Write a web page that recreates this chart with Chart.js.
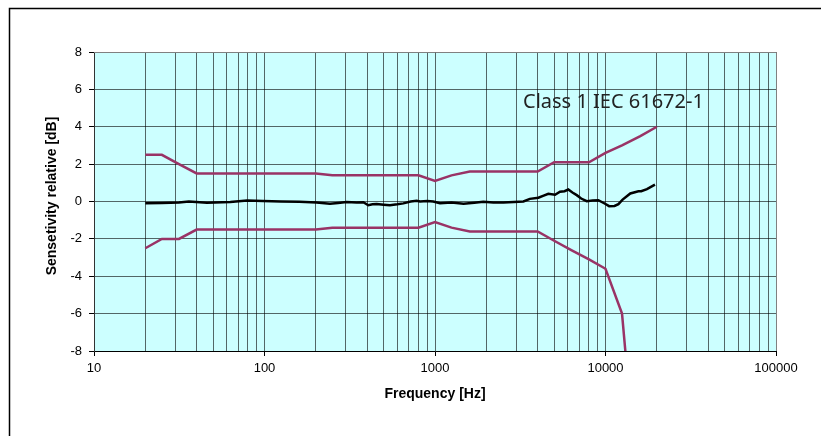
<!DOCTYPE html>
<html>
<head>
<meta charset="utf-8">
<script src="https://cdn.jsdelivr.net/npm/chart.js@4/dist/chart.umd.min.js"></script>
<style>
  html, body { margin: 0; padding: 0; background: #fff; }
  #wrap { width: 821px; height: 436px; position: relative; }
</style>
</head>
<body>
<div id="wrap"><canvas id="sensChart" width="821" height="436"></canvas></div>
<script>
// Class 1 IEC 61672-1 tolerance limits (1/3 octave centre frequencies)
const tolFreq = [20, 25, 31.5, 40, 50, 63, 80, 100, 125, 160, 200, 250, 315, 400, 500, 630, 800,
                 1000, 1250, 1600, 2000, 2500, 3150, 4000, 5000, 6300, 8000, 10000, 12500, 16000, 20000];
const tolUpper = [2.5, 2.5, 2.0, 1.5, 1.5, 1.5, 1.5, 1.5, 1.5, 1.5, 1.5, 1.4, 1.4, 1.4, 1.4, 1.4, 1.4,
                  1.1, 1.4, 1.6, 1.6, 1.6, 1.6, 1.6, 2.1, 2.1, 2.1, 2.6, 3.0, 3.5, 4.0];
const tolLower = [-2.5, -2.0, -2.0, -1.5, -1.5, -1.5, -1.5, -1.5, -1.5, -1.5, -1.5, -1.4, -1.4, -1.4, -1.4, -1.4, -1.4,
                  -1.1, -1.4, -1.6, -1.6, -1.6, -1.6, -1.6, -2.1, -2.6, -3.1, -3.6, -6.0, -17, null];

// measured relative sensitivity
const measFreq = [20, 25, 31.5, 36, 46, 63, 79, 98, 125, 160, 202, 242, 270, 303, 347, 380, 406, 430, 455, 500,
                  544, 600, 652, 720, 781, 817, 900, 977, 1070, 1250, 1470, 1700, 1920, 2200, 2520, 2900, 3300,
                  3600, 4040, 4300, 4620, 5060, 5410, 5750, 6050, 6400, 6780, 7200, 7760, 8400, 9080, 9940,
                  10500, 11300, 11900, 12600, 13980, 15600, 16200, 17500, 19500];
const measDb = [-0.1, -0.08, -0.05, 0.0, -0.07, -0.03, 0.05, 0.03, 0.0, -0.02, -0.05, -0.12, -0.08, -0.03, -0.05,
                -0.04, -0.2, -0.15, -0.13, -0.17, -0.2, -0.15, -0.1, 0.0, 0.04, 0.0, 0.02, 0.0, -0.09, -0.06,
                -0.12, -0.07, -0.02, -0.05, -0.06, -0.03, 0.0, 0.14, 0.2, 0.3, 0.41, 0.36, 0.52, 0.55, 0.64,
                0.48, 0.34, 0.16, 0.02, 0.05, 0.07, -0.12, -0.25, -0.24, -0.14, 0.1, 0.43, 0.55, 0.55, 0.66, 0.9];

const decades = [10, 100, 1000, 10000, 100000];
const yTicks = [-8, -6, -4, -2, 0, 2, 4, 6, 8];

const toPoints = (xs, ys) => xs.map((x, i) => ({ x, y: ys[i] }));

// grid at every 1..9 multiple of each decade
const gridFreqs = [];
decades.forEach((d, i) => {
    const last = i === decades.length - 1 ? 1 : 9;
    for (let m = 1; m <= last; m++) gridFreqs.push(d * m);
});

const tickFont = { family: "'Liberation Sans', Arial, sans-serif", size: 13 };
const gridColor = 'rgba(0,0,0,0.6)';

const framePlugin = {
    id: 'frame',
    beforeDraw(chart) {
        const { ctx, chartArea: a } = chart;
        ctx.save();
        ctx.fillStyle = '#fff';
        ctx.fillRect(0, 0, chart.width, chart.height);
        ctx.strokeStyle = '#000';
        ctx.lineWidth = 1.5;
        ctx.beginPath();
        ctx.moveTo(9.5, chart.height);
        ctx.lineTo(9.5, 8.5);
        ctx.lineTo(chart.width, 8.5);
        ctx.stroke();
        ctx.fillStyle = '#ccffff';
        ctx.fillRect(a.left, a.top, a.right - a.left, a.bottom - a.top);
        ctx.restore();
    },
    afterDraw(chart) {
        const { ctx, chartArea: a } = chart;
        ctx.save();
        ctx.strokeStyle = '#808080';
        ctx.lineWidth = 1;
        ctx.beginPath();
        ctx.moveTo(a.left, a.top + 0.5);
        ctx.lineTo(a.right + 0.5, a.top + 0.5);
        ctx.lineTo(a.right + 0.5, a.bottom);
        ctx.stroke();

        ctx.fillStyle = '#000';
        ctx.font = "bold 14px 'Liberation Sans', Arial, sans-serif";
        ctx.textAlign = 'center';
        ctx.textBaseline = 'middle';
        ctx.fillText('Frequency [Hz]', (a.left + a.right) / 2, 394);
        ctx.translate(52, 196);
        ctx.rotate(-Math.PI / 2);
        ctx.fillText('Sensetivity relative [dB]', 0, 0);
        ctx.setTransform(1, 0, 0, 1, 0, 0);

        ctx.fillStyle = '#222';
        ctx.font = "20px 'Noto Sans', 'Open Sans', sans-serif";
        ctx.textAlign = 'left';
        ctx.fillText('Class 1 IEC 61672-1', 523, 102);
        ctx.restore();
    }
};

new Chart(document.getElementById('sensChart'), {
    type: 'line',
    data: {
        datasets: [
            { label: 'Upper limit', data: toPoints(tolFreq, tolUpper), borderColor: '#993366', borderWidth: 2.5 },
            { label: 'Lower limit', data: toPoints(tolFreq, tolLower), borderColor: '#993366', borderWidth: 2.5 },
            { label: 'Measured', data: toPoints(measFreq, measDb), borderColor: '#000', borderWidth: 2.5 }
        ]
    },
    options: {
        responsive: false,
        animation: false,
        devicePixelRatio: 1,
        elements: { point: { radius: 0 }, line: { tension: 0 } },
        layout: { padding: { left: 0, top: 52, right: 45, bottom: 0 } },
        plugins: { legend: { display: false }, tooltip: { enabled: false } },
        scales: {
            x: {
                type: 'logarithmic',
                min: 10,
                max: 100000,
                afterBuildTicks: s => { s.ticks = gridFreqs.map(v => ({ value: v })); },
                afterFit: s => { s.height = 85; },
                ticks: {
                    autoSkip: false,
                    maxRotation: 0,
                    minRotation: 0,
                    padding: 5,
                    color: '#000',
                    font: tickFont,
                    callback: v => decades.includes(v) ? String(v) : ''
                },
                grid: {
                    color: gridColor,
                    tickLength: 5,
                    tickColor: c => (c.tick && decades.includes(c.tick.value)) ? '#000' : 'rgba(0,0,0,0)'
                },
                border: { color: '#000', width: 1 }
            },
            y: {
                min: -8,
                max: 8,
                afterBuildTicks: s => { s.ticks = yTicks.map(v => ({ value: v })); },
                afterFit: s => { s.width = 94; },
                ticks: { padding: 7, color: '#000', font: tickFont },
                grid: { color: gridColor, tickLength: 5, tickColor: '#000' },
                border: { color: '#333', width: 1 }
            }
        }
    },
    plugins: [framePlugin]
});
</script>
</body>
</html>
